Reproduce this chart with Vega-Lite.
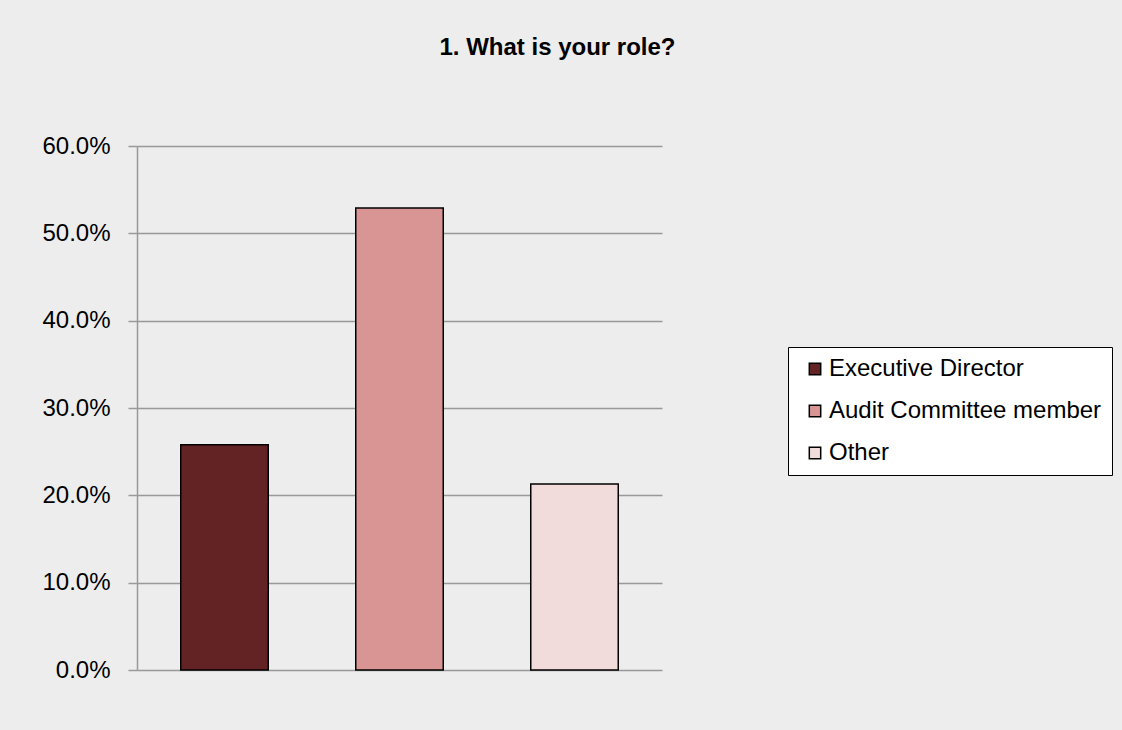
{
  "$schema": "https://vega.github.io/schema/vega-lite/v6.json",
  "width": 525,
  "height": 524,
  "autosize": {"type": "none"},
  "padding": {"left": 137, "top": 146, "right": 460, "bottom": 60},
  "background": "#ededed",
  "title": {
    "text": "1. What is your role?",
    "font": "Liberation Sans",
    "fontSize": 24,
    "fontWeight": "bold",
    "color": "#000000",
    "anchor": "middle",
    "frame": "group",
    "dx": 158,
    "offset": 74
  },
  "data": {
    "values": [
      {"role": "Executive Director", "share": 0.258},
      {"role": "Audit Committee member", "share": 0.529},
      {"role": "Other", "share": 0.213}
    ]
  },
  "mark": {"type": "bar", "stroke": "#000000", "strokeWidth": 1.5},
  "encoding": {
    "x": {
      "field": "role",
      "type": "nominal",
      "sort": ["Executive Director", "Audit Committee member", "Other"],
      "scale": {"paddingInner": 0.5, "paddingOuter": 0.25},
      "axis": null
    },
    "y": {
      "field": "share",
      "type": "quantitative",
      "scale": {"domain": [0, 0.6], "nice": false},
      "axis": {
        "title": null,
        "values": [0, 0.1, 0.2, 0.3, 0.4, 0.5, 0.6],
        "format": ".1%",
        "labelFont": "Liberation Sans",
        "labelFontSize": 24,
        "labelColor": "#000000",
        "labelPadding": 18,
        "tickSize": 9,
        "tickColor": "#999999",
        "tickWidth": 1.5,
        "domainColor": "#999999",
        "domainWidth": 1.5,
        "gridColor": "#999999",
        "gridWidth": 1.5
      }
    },
    "fill": {
      "field": "role",
      "type": "nominal",
      "sort": ["Executive Director", "Audit Committee member", "Other"],
      "scale": {
        "domain": ["Executive Director", "Audit Committee member", "Other"],
        "range": ["#632324", "#d99594", "#f2dcdb"]
      },
      "legend": {
        "title": null,
        "orient": "none",
        "legendX": 651,
        "legendY": 201,
        "fillColor": "#ffffff",
        "strokeColor": "#000000",
        "padding": 10,
        "symbolType": "square",
        "symbolSize": 130,
        "symbolStrokeColor": "#000000",
        "symbolStrokeWidth": 1.5,
        "symbolOffset": 5,
        "labelFont": "Liberation Sans",
        "labelFontSize": 24,
        "labelColor": "#000000",
        "labelOffset": 2,
        "labelLimit": 400,
        "rowPadding": 18
      }
    }
  },
  "config": {
    "view": {"stroke": null}
  }
}
